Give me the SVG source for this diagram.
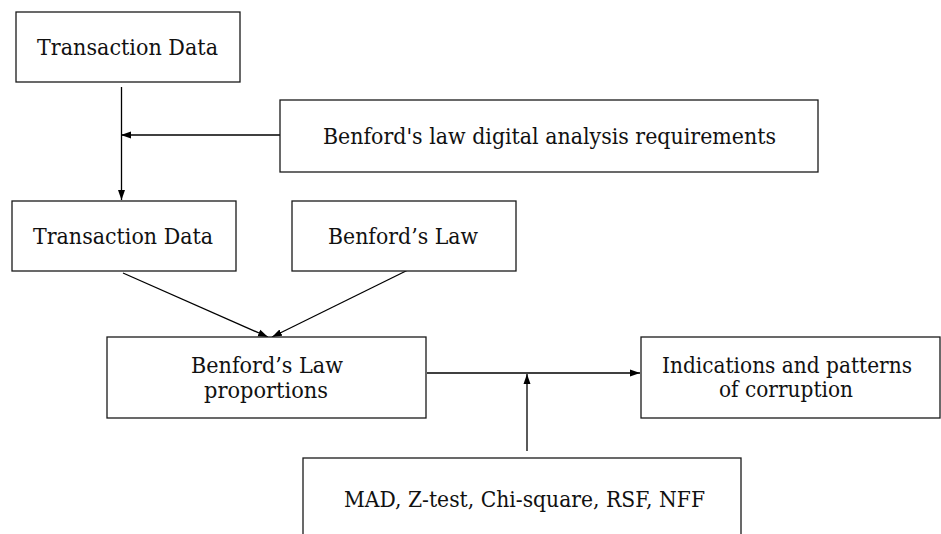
<svg xmlns="http://www.w3.org/2000/svg" width="941" height="534" viewBox="0 0 941 534">
<style>
  .box { fill: #ffffff; stroke: #1a1a1a; stroke-width: 1.3; }
  .lbl { font-family: "DejaVu Serif", "Liberation Serif", serif; font-size: 22px; fill: #111111; text-anchor: middle; }
  .con { stroke: #000000; stroke-width: 1.3; fill: none; marker-end: url(#ah); }
</style>
<defs>
  <marker id="ah" markerUnits="userSpaceOnUse" markerWidth="10" markerHeight="8" refX="10" refY="4" orient="auto">
    <path d="M0,0.5 L10,4 L0,7.5 z" fill="#000000"/>
  </marker>
</defs>
<rect width="941" height="534" fill="#ffffff"/>
<g id="connectors">
  <line class="con" x1="121.5" y1="87" x2="121.5" y2="200"/>
  <line class="con" x1="280" y1="135" x2="121" y2="135"/>
  <line class="con" x1="123" y1="273" x2="268" y2="337"/>
  <line class="con" x1="410" y1="269" x2="272" y2="337"/>
  <line class="con" x1="427" y1="373" x2="640" y2="373"/>
  <line class="con" x1="527" y1="451" x2="527" y2="374"/>
</g>
<g id="node-transaction-data-1">
  <rect class="box" x="16" y="12" width="224" height="70"/>
  <text class="lbl" x="127.5" y="55" textLength="181" lengthAdjust="spacingAndGlyphs">Transaction Data</text>
</g>
<g id="node-requirements">
  <rect class="box" x="280" y="100" width="538" height="72"/>
  <text class="lbl" x="549.5" y="144" textLength="453" lengthAdjust="spacingAndGlyphs">Benford's law digital analysis requirements</text>
</g>
<g id="node-transaction-data-2">
  <rect class="box" x="12" y="201" width="224" height="70"/>
  <text class="lbl" x="123" y="244" textLength="180" lengthAdjust="spacingAndGlyphs">Transaction Data</text>
</g>
<g id="node-benfords-law">
  <rect class="box" x="292" y="201" width="224" height="70"/>
  <text class="lbl" x="403" y="244" textLength="150" lengthAdjust="spacingAndGlyphs">Benford’s Law</text>
</g>
<g id="node-proportions">
  <rect class="box" x="107" y="337" width="319" height="81"/>
  <text class="lbl" x="267" y="373" textLength="152" lengthAdjust="spacingAndGlyphs">Benford’s Law</text>
  <text class="lbl" x="266" y="398" textLength="124" lengthAdjust="spacingAndGlyphs">proportions</text>
</g>
<g id="node-indications">
  <rect class="box" x="641" y="337" width="299" height="81"/>
  <text class="lbl" x="787" y="373" textLength="250" lengthAdjust="spacingAndGlyphs">Indications and patterns</text>
  <text class="lbl" x="786" y="397" textLength="134" lengthAdjust="spacingAndGlyphs">of corruption</text>
</g>
<g id="node-tests">
  <rect class="box" x="303" y="458" width="438" height="100"/>
  <text class="lbl" x="524.5" y="507" textLength="361" lengthAdjust="spacingAndGlyphs">MAD, Z-test, Chi-square, RSF, NFF</text>
</g>
</svg>
